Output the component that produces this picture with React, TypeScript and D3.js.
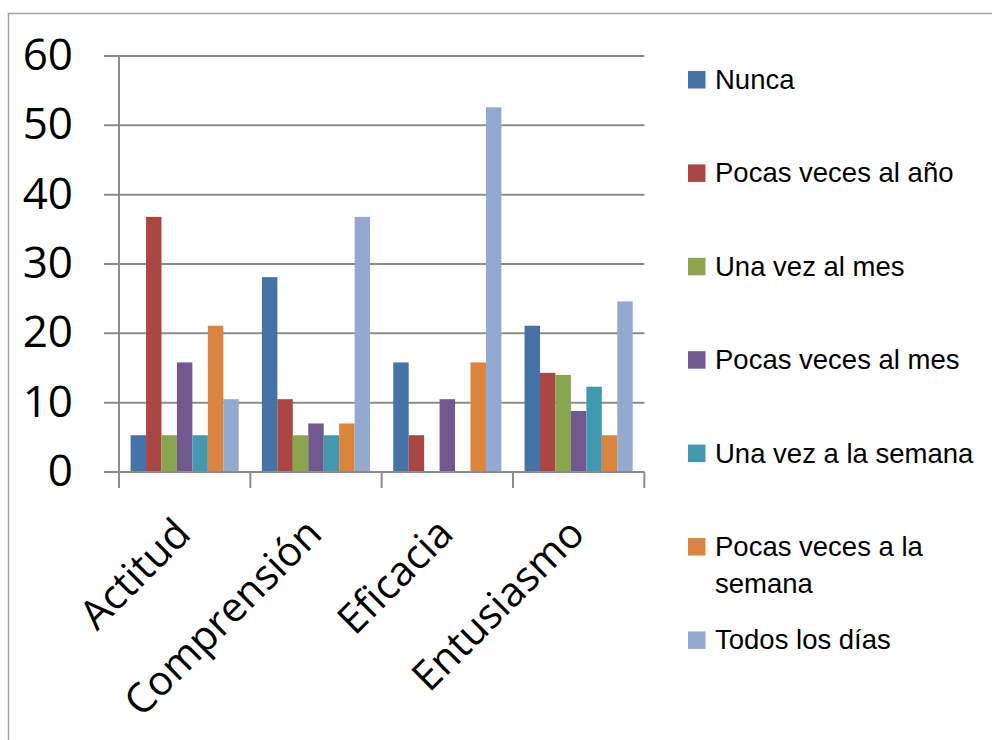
import { useEffect, useRef } from "react";
import * as d3 from "d3";

const width = 992;
const height = 740;

const categories = ["Actitud", "Comprensión", "Eficacia", "Entusiasmo"];
const seriesNames = [
  "Nunca",
  "Pocas veces al año",
  "Una vez al mes",
  "Pocas veces al mes",
  "Una vez a la semana",
  "Pocas veces a la semana",
  "Todos los días",
];
// values per series, in category order
const nunca = [5.3, 28.1, 15.8, 21.1];
const pocasAno = [36.8, 10.5, 5.3, 14.3];
const unaVezMes = [5.3, 5.3, 0, 14.0];
const pocasMes = [15.8, 7.0, 10.5, 8.8];
const unaVezSemana = [5.3, 5.3, 0, 12.3];
const pocasSemana = [21.1, 7.0, 15.8, 5.3];
const todosDias = [10.5, 36.8, 52.6, 24.6];
const seriesValues = [nunca, pocasAno, unaVezMes, pocasMes, unaVezSemana, pocasSemana, todosDias];
const yTicks = [0, 10, 20, 30, 40, 50, 60];
const colors = ["#4572A7", "#AA4643", "#89A54E", "#71588F", "#4198AF", "#DB843D", "#93A9CF"];

const App = () => {
  const svgRef = useRef<SVGSVGElement | null>(null);

  useEffect(() => {
    const svg = d3.select(svgRef.current);
    svg.selectAll("*").remove();

    const left = 119;
    const right = 644.3;
    const top = 56;
    const bottom = 472;

    const x0 = d3.scaleBand<string>().domain(categories).range([left, right]);
    const x1 = d3
      .scaleBand<string>()
      .domain(seriesNames)
      .range([0, x0.bandwidth()])
      .paddingInner(0)
      .paddingOuter(0.75);
    const y = d3.scaleLinear().domain([0, 60]).range([bottom, top]);

    // outer frame
    svg
      .append("rect")
      .attr("x", 8.5)
      .attr("y", 13.5)
      .attr("width", 1000)
      .attr("height", 1000)
      .attr("fill", "none")
      .attr("stroke", "#a0a0a0")
      .attr("stroke-width", 1.5);

    // gridlines
    svg
      .selectAll(".grid")
      .data(yTicks)
      .join("line")
      .attr("x1", left - 15)
      .attr("x2", right)
      .attr("y1", (d) => y(d))
      .attr("y2", (d) => y(d))
      .attr("stroke", "#8c8c8c")
      .attr("stroke-width", 2);

    // y axis line
    svg
      .append("line")
      .attr("x1", left)
      .attr("x2", left)
      .attr("y1", top)
      .attr("y2", bottom + 16)
      .attr("stroke", "#8c8c8c")
      .attr("stroke-width", 2);

    // category ticks
    const boundaries = categories.map((c) => x0(c)!).concat([right]);
    svg
      .selectAll(".xtick")
      .data(boundaries)
      .join("line")
      .attr("x1", (d) => d)
      .attr("x2", (d) => d)
      .attr("y1", bottom)
      .attr("y2", bottom + 16)
      .attr("stroke", "#8c8c8c")
      .attr("stroke-width", 2);

    // y labels
    svg
      .selectAll(".ylab")
      .data(yTicks)
      .join("text")
      .attr("x", 73)
      .attr("y", (d) => y(d) + 14)
      .attr("text-anchor", "end")
      .attr("font-family", "'Open Sans', sans-serif")
      .attr("font-size", 44)
      .attr("fill", "#000")
      .text((d) => d);

    // bars
    seriesNames.forEach((name, si) => {
      svg
        .append("g")
        .selectAll("rect")
        .data(seriesValues[si])
        .join("rect")
        .attr("x", (d, i) => x0(categories[i])! + x1(name)!)
        .attr("y", (d) => y(d))
        .attr("width", x1.bandwidth())
        .attr("height", (d) => bottom - y(d))
        .attr("fill", colors[si]);
    });

    // redraw baseline over bars
    svg
      .append("line")
      .attr("x1", left - 15)
      .attr("x2", right)
      .attr("y1", bottom)
      .attr("y2", bottom)
      .attr("stroke", "#8c8c8c")
      .attr("stroke-width", 2);

    // category labels
    svg
      .selectAll(".xlab")
      .data(categories)
      .join("text")
      .attr(
        "transform",
        (d) => `translate(${x0(d)! + x0.bandwidth() / 2 + 8},536) rotate(-45)`
      )
      .attr("text-anchor", "end")
      .attr("font-family", "'Open Sans', sans-serif")
      .attr("font-size", 41)
      .attr("fill", "#000")
      .text((d) => d);

    // legend
    const legendLines = [
      ["Nunca"],
      ["Pocas veces al año"],
      ["Una vez al mes"],
      ["Pocas veces al mes"],
      ["Una vez a la semana"],
      ["Pocas veces a la", "semana"],
      ["Todos los días"],
    ];
    const legend = svg
      .append("g")
      .selectAll("g")
      .data(seriesNames)
      .join("g")
      .attr("transform", (d, i) => `translate(688,${80 + i * 93.4})`);
    legend
      .append("rect")
      .attr("x", 0)
      .attr("y", -9)
      .attr("width", 17.5)
      .attr("height", 17.5)
      .attr("fill", (d, i) => colors[i]);
    legend
      .append("text")
      .attr("font-family", "'Liberation Sans', Arial, sans-serif")
      .attr("font-size", 27.5)
      .attr("fill", "#000")
      .selectAll("tspan")
      .data((d, i) => legendLines[i])
      .join("tspan")
      .attr("x", 27)
      .attr("y", (d, j) => 9 + j * 37)
      .text((d) => d);
  }, []);

  return (
    <svg
      ref={svgRef}
      width={width}
      height={height}
      style={{ position: "absolute", left: 0, top: 0, display: "block", background: "#fff" }}
    />
  );
};

export default App;
